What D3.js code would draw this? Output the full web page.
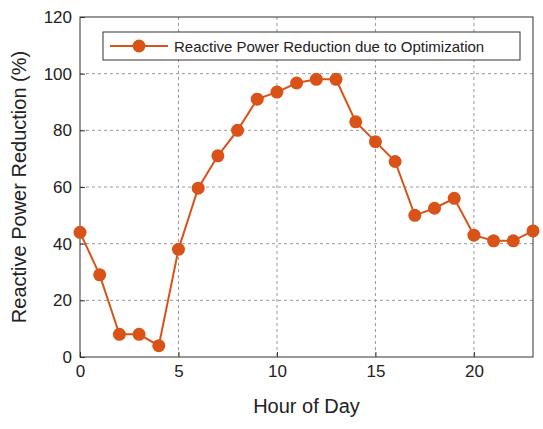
<!DOCTYPE html><html><head><meta charset="utf-8"><script src="https://cdn.jsdelivr.net/npm/d3@7"></script>
<style>body{margin:0;background:#fff}text{font-family:"Liberation Sans",Arial,sans-serif}</style></head><body><svg id="c" width="543" height="429"></svg>
<script>
const hours=d3.range(0,24);
const reduction=[44,29,8,8,4,38,59.6,71,80,91,93.5,96.7,98,98,83,76,69,50,52.5,56,43,41,41,44.5];
const xTicks=[0,5,10,15,20];
const yTicks=[0,20,40,60,80,100,120];
const seriesName="Reactive Power Reduction due to Optimization";
const col="#d95319";
const svg=d3.select("#c");
const L=80,R=533,T=17,B=357;
const x=d3.scaleLinear().domain([0,23]).range([L,R]);
const y=d3.scaleLinear().domain([0,120]).range([B,T]);
const g=svg.append("g");
g.selectAll(".gx").data(xTicks.slice(1)).enter().append("line").attr("x1",d=>x(d)).attr("x2",d=>x(d)).attr("y1",T).attr("y2",B).attr("stroke","#999").attr("stroke-dasharray","3,3");
g.selectAll(".gy").data(yTicks.slice(1,-1)).enter().append("line").attr("y1",d=>y(d)).attr("y2",d=>y(d)).attr("x1",L).attr("x2",R).attr("stroke","#999").attr("stroke-dasharray","3,3");
const ax=svg.append("g").attr("transform",`translate(0,${B})`).call(d3.axisBottom(x).tickValues(xTicks).tickSize(-5).tickPadding(8));
const ay=svg.append("g").attr("transform",`translate(${L},0)`).call(d3.axisLeft(y).tickValues(yTicks).tickSize(-5).tickPadding(8));
[ax,ay].forEach(a=>{a.selectAll("text").attr("font-size",17).attr("fill","#222").style("font-family","Liberation Sans");a.select(".domain").remove();a.selectAll("line").attr("stroke","#333");});
svg.append("rect").attr("x",L).attr("y",T).attr("width",R-L).attr("height",B-T).attr("fill","none").attr("stroke","#333");
svg.append("path").datum(reduction).attr("fill","none").attr("stroke",col).attr("stroke-width",2).attr("d",d3.line().x((d,i)=>x(hours[i])).y(d=>y(d)));
svg.selectAll(".pt").data(reduction).enter().append("circle").attr("cx",(d,i)=>x(hours[i])).attr("cy",d=>y(d)).attr("r",6.5).attr("fill",col);
svg.append("text").attr("x",(L+R)/2).attr("y",413).attr("text-anchor","middle").attr("font-size",20).attr("fill","#222").text("Hour of Day");
svg.append("text").attr("transform",`translate(26,${(T+B)/2}) rotate(-90)`).attr("text-anchor","middle").attr("font-size",20).attr("fill","#222").text("Reactive Power Reduction (%)");
const lg=svg.append("g");
lg.append("rect").attr("x",103).attr("y",32).attr("width",417).attr("height",28).attr("fill","#fff").attr("stroke","#333");
lg.append("line").attr("x1",110).attr("x2",168).attr("y1",46).attr("y2",46).attr("stroke",col).attr("stroke-width",2);
lg.append("circle").attr("cx",139).attr("cy",46).attr("r",6.5).attr("fill",col);
lg.append("text").attr("x",174).attr("y",51.5).attr("font-size",15).attr("fill","#222").text(seriesName);
</script></body></html>
